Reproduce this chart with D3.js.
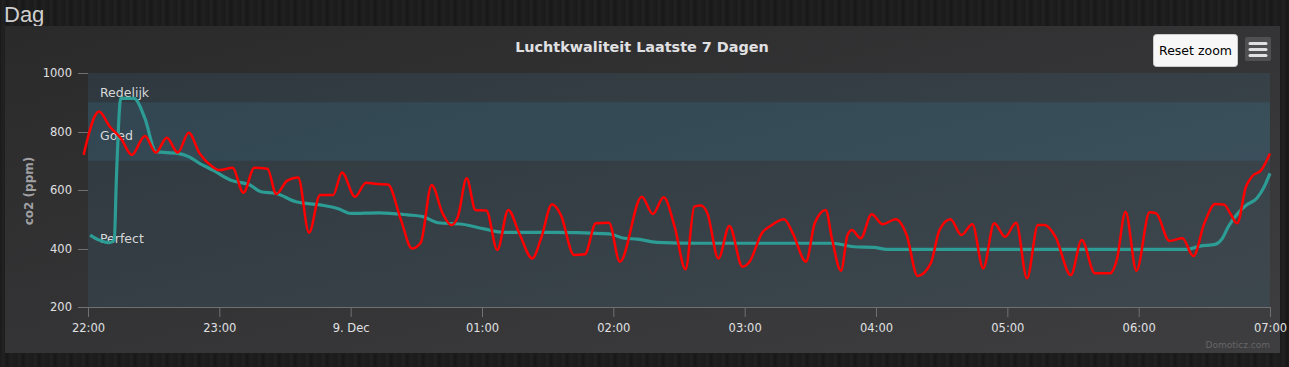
<!DOCTYPE html>
<html lang="nl">
  <head>
    <meta charset="UTF-8" />
    <title>Luchtkwaliteit</title>
    <script src="https://d3js.org/d3.v7.min.js"></script>
    <style>
      body {
        margin: 0;
        padding: 0;
        width: 1289px;
        height: 367px;
        overflow: hidden;
        background-color: #1c1c1c;
        background-image: repeating-linear-gradient(
          90deg,
          #1a1a1a 0px,
          #222 3px,
          #181818 7px,
          #202020 11px,
          #1b1b1b 16px
        );
        font-family: "DejaVu Sans", sans-serif;
      }
      svg {
        display: block;
      }
    </style>
  </head>
  <body>
    <svg width="1289" height="367"></svg>
    <script>
      // co2 meting (rood) en gemiddelde (teal), tijden als HH:MM vanaf 8 dec 22:00
      const redTimes = [
        "21:58", "22:05", "22:10", "22:15", "22:20", "22:26", "22:31", "22:36", "22:41", "22:46",
        "22:51", "22:56", "23:00", "23:06", "23:11", "23:16", "23:22", "23:26", "23:31", "23:36",
        "23:41", "23:46", "23:52", "23:56", "00:02", "00:07", "00:11", "00:17", "00:23", "00:28",
        "00:32", "00:37", "00:42", "00:46", "00:49", "00:53", "00:57", "01:02", "01:07", "01:12",
        "01:17", "01:23", "01:27", "01:32", "01:36", "01:42", "01:47", "01:52", "01:58", "02:03",
        "02:13", "02:18", "02:23", "02:28", "02:33", "02:37", "02:40", "02:43", "02:48", "02:53",
        "02:59", "03:02", "03:08", "03:12", "03:18", "03:22", "03:28", "03:32", "03:37", "03:40",
        "03:44", "03:47", "03:49", "03:53", "03:58", "04:03", "04:09", "04:14", "04:19", "04:25",
        "04:29", "04:34", "04:39", "04:44", "04:49", "04:54", "04:59", "05:04", "05:09", "05:14",
        "05:17", "05:22", "05:29", "05:34", "05:40", "05:47", "05:50", "05:54", "05:59", "06:05",
        "06:08", "06:14", "06:20", "06:25", "06:30", "06:35", "06:39", "06:42", "06:45", "06:49",
        "06:52", "06:56", "07:00"
      ];
      const redValues = [
        720, 868, 816, 777, 720, 785, 728, 779, 728, 796,
        725, 685, 668, 676, 591, 676, 673, 586, 632, 643,
        454, 583, 583, 660, 577, 625, 621, 619, 497, 400,
        420, 617, 520, 480, 509, 640, 532, 530, 395, 532,
        452, 366, 435, 551, 515, 378, 380, 486, 488, 355,
        577, 518, 575, 475, 329, 543, 547, 520, 366, 477,
        338, 352, 454, 478, 500, 452, 355, 486, 532, 429,
        324, 446, 463, 435, 517, 483, 500, 446, 306, 349,
        463, 500, 446, 483, 332, 486, 440, 488, 298, 480,
        480, 440, 309, 429, 315, 315, 361, 526, 324, 524,
        520, 426, 435, 374, 486, 552, 550, 518, 486, 611,
        648, 668, 725
      ];
      const tealTimes = [
        "22:01", "22:05", "22:10", "22:12", "22:13", "22:15", "22:21", "22:26", "22:31", "22:41",
        "22:46", "22:51", "22:57", "23:05", "23:14", "23:19", "23:26", "23:35", "23:46", "23:54",
        "00:00", "00:13", "00:26", "00:33", "00:40", "00:51", "01:01", "01:10", "01:30", "01:58",
        "02:05", "02:11", "02:20", "02:40", "03:40", "03:50", "03:59", "04:05", "06:22", "06:28",
        "06:35", "06:38", "06:41", "06:46", "06:49", "06:54", "06:57", "07:00"
      ];
      const tealValues = [
        446, 429, 420, 429, 646, 913, 913, 845, 731, 725,
        714, 691, 668, 634, 617, 594, 588, 560, 549, 537,
        520, 522, 515, 509, 488, 483, 467, 455, 455, 450,
        435, 432, 421, 418, 418, 406, 404, 397, 397, 408,
        414, 432, 475, 526, 547, 572, 606, 657
      ];
      const bandNames = ["Redelijk", "Goed", "Perfect"];
      const bandFrom = [900, 700, 0];
      const bandTo = [1000, 900, 700];
      const bandLabelAt = [918, 771, 419];
      const yTicks = [200, 400, 600, 800, 1000];
      const xTickTimes = ["22:00", "23:00", "00:00", "01:00", "02:00", "03:00", "04:00", "05:00", "06:00", "07:00"];

      const parseTime = (s) => {
        const [h, m] = s.split(":").map(Number);
        return new Date(2019, 11, h >= 12 ? 8 : 9, h, m);
      };

      const svg = d3.select("svg");

      // paneel met verloop
      const defs = svg.append("defs");
      const grad = defs
        .append("linearGradient")
        .attr("id", "panelGrad")
        .attr("x1", 0).attr("y1", 0).attr("x2", 1).attr("y2", 1);
      grad.append("stop").attr("offset", "0%").attr("stop-color", "#2a2a2b");
      grad.append("stop").attr("offset", "100%").attr("stop-color", "#3e3e40");

      svg.append("text")
        .attr("x", 4).attr("y", 22)
        .attr("font-family", "Liberation Sans, Arial, sans-serif")
        .attr("font-size", 22)
        .attr("fill", "#cfcfcf")
        .text("Dag");

      svg.append("rect")
        .attr("x", 5).attr("y", 26)
        .attr("width", 1275).attr("height", 327)
        .attr("fill", "url(#panelGrad)");

      const plotLeft = 88, plotRight = 1270, plotTop = 73, plotBottom = 307;
      const x = d3.scaleTime()
        .domain([parseTime("22:00"), parseTime("07:00")])
        .range([plotLeft, plotRight]);
      const y = d3.scaleLinear().domain([200, 1000]).range([plotBottom, plotTop]);

      // plotbanden
      const plot = svg.append("g");
      plot.append("rect")
        .attr("x", plotLeft).attr("y", plotTop)
        .attr("width", plotRight - plotLeft).attr("height", plotBottom - plotTop)
        .attr("fill", "rgba(68,170,213,0.1)");
      bandNames.forEach((name, i) => {
        const y0 = y(Math.min(bandTo[i], 1000));
        const y1 = y(Math.max(bandFrom[i], 200));
        if (name === "Goed") {
          plot.append("rect")
            .attr("x", plotLeft).attr("y", y0)
            .attr("width", plotRight - plotLeft).attr("height", y1 - y0)
            .attr("fill", "rgba(68,170,213,0.12)");
        }
        plot.append("text")
          .attr("x", plotLeft + 12)
          .attr("y", y(bandLabelAt[i]))
          .attr("font-size", 12.5)
          .attr("fill", "#d8d8da")
          .text(name);
      });

      // assen
      svg.append("line")
        .attr("x1", 78).attr("x2", plotRight)
        .attr("y1", plotBottom + 0.5).attr("y2", plotBottom + 0.5)
        .attr("stroke", "#707073");

      const yAxis = svg.append("g");
      yTicks.forEach((t) => {
        yAxis.append("line")
          .attr("x1", 78).attr("x2", plotLeft)
          .attr("y1", Math.round(y(t)) + 0.5).attr("y2", Math.round(y(t)) + 0.5)
          .attr("stroke", "#707073");
        yAxis.append("text")
          .attr("x", 72).attr("y", y(t))
          .attr("dy", "0.35em")
          .attr("text-anchor", "end")
          .attr("font-size", 11.5)
          .attr("fill", "#e0e0e3")
          .text(t);
      });

      const xAxis = svg.append("g")
        .attr("transform", `translate(0,${plotBottom})`)
        .call(
          d3.axisBottom(x)
            .tickValues(xTickTimes.map(parseTime))
            .tickSize(10)
            .tickFormat((d) => (d.getHours() === 0 ? "9. Dec" : d3.timeFormat("%H:%M")(d)))
        );
      xAxis.select(".domain").remove();
      xAxis.selectAll(".tick line").attr("stroke", "#707073");
      xAxis.selectAll(".tick text")
        .attr("fill", "#e0e0e3")
        .attr("font-size", 11.5)
        .attr("font-family", "DejaVu Sans, sans-serif")
        .attr("dy", "1.05em");

      svg.append("text")
        .attr("transform", `translate(33,191) rotate(-90)`)
        .attr("text-anchor", "middle")
        .attr("font-size", 12)
        .attr("font-weight", "bold")
        .attr("fill", "#a0a0a3")
        .text("co2 (ppm)");

      // lijnen
      const line = d3.line()
        .x((d) => x(d[0]))
        .y((d) => y(d[1]))
        .curve(d3.curveMonotoneX);

      const tealData = tealTimes.map((t, i) => [parseTime(t), tealValues[i]]);
      const redData = redTimes.map((t, i) => [parseTime(t), redValues[i]]);

      svg.append("path")
        .datum(tealData)
        .attr("d", line)
        .attr("fill", "none")
        .attr("stroke", "#2c9c95")
        .attr("stroke-width", 3.2);

      svg.append("path")
        .datum(redData)
        .attr("d", line)
        .attr("fill", "none")
        .attr("stroke", "#ff0000")
        .attr("stroke-width", 2.5);

      // titel
      svg.append("text")
        .attr("x", 642).attr("y", 52)
        .attr("text-anchor", "middle")
        .attr("font-size", 14.4)
        .attr("font-weight", "bold")
        .attr("fill", "#e0e0e3")
        .text("Luchtkwaliteit Laatste 7 Dagen");

      // knoppen
      svg.append("rect")
        .attr("x", 1153.5).attr("y", 34.5)
        .attr("width", 84).attr("height", 32)
        .attr("rx", 3)
        .attr("fill", "#f7f7f7")
        .attr("stroke", "#cccccc");
      svg.append("text")
        .attr("x", 1195.5).attr("y", 51)
        .attr("dy", "0.35em")
        .attr("text-anchor", "middle")
        .attr("font-size", 12.5)
        .attr("fill", "#000")
        .text("Reset zoom");

      svg.append("rect")
        .attr("x", 1245).attr("y", 37)
        .attr("width", 26).attr("height", 24)
        .attr("rx", 2)
        .attr("fill", "#505053");
      [43.5, 49.5, 55.5].forEach((ly) => {
        svg.append("line")
          .attr("x1", 1250).attr("x2", 1266)
          .attr("y1", ly).attr("y2", ly)
          .attr("stroke", "#e0e0e3")
          .attr("stroke-width", 3)
          .attr("stroke-linecap", "round");
      });

      svg.append("text")
        .attr("x", 1270).attr("y", 348)
        .attr("text-anchor", "end")
        .attr("font-size", 9)
        .attr("fill", "#666666")
        .text("Domoticz.com");
    </script>
  </body>
</html>
